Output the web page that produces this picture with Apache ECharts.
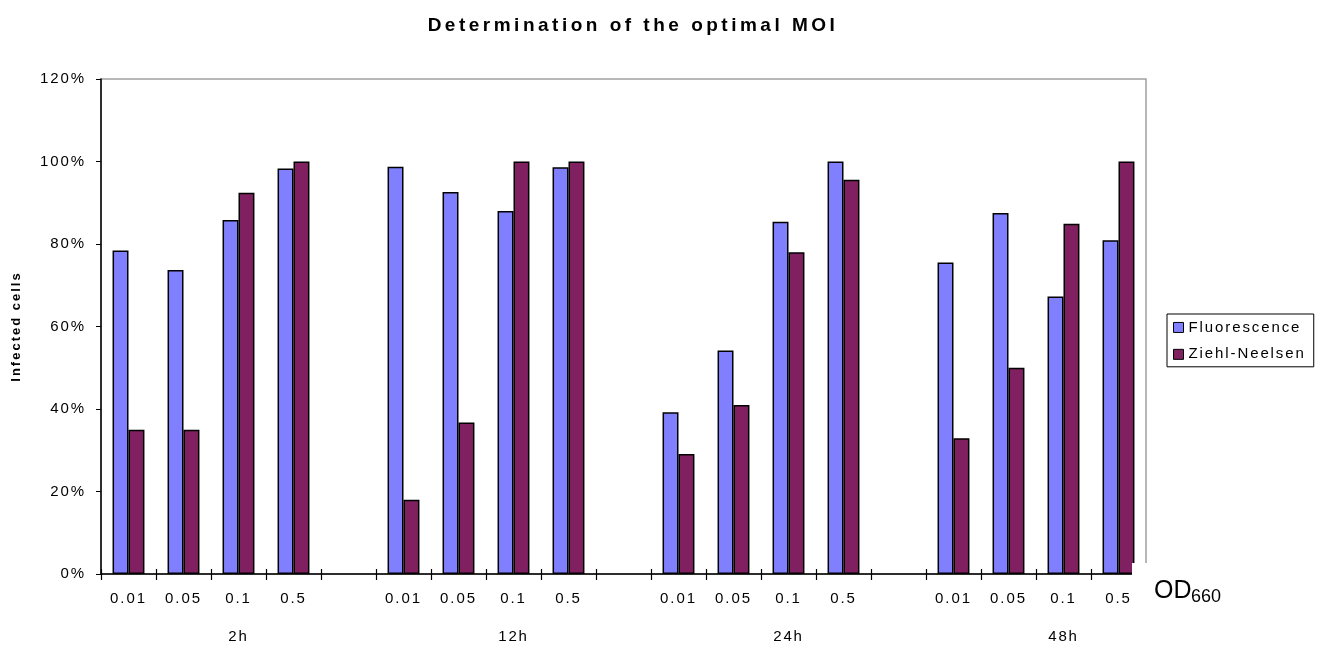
<!DOCTYPE html>
<html>
<head>
<meta charset="utf-8">
<script src="https://cdn.jsdelivr.net/npm/echarts@6/dist/echarts.min.js"></script>
<style>html,body{margin:0;padding:0;background:#fff;}#c{width:1326px;height:646px;}</style>
</head>
<body>
<div id="c"></div>
<script>
// 19 slots: four time groups of four MOI values, separated by empty slots
const moiLabels = ['0.01','0.05','0.1','0.5','', '0.01','0.05','0.1','0.5','', '0.01','0.05','0.1','0.5','', '0.01','0.05','0.1','0.5'];
const groupLabels = ['','','2h','','', '','','12h','','', '','','24h','','', '','','48h',''];
const fluorescence = [78.4, 73.7, 85.8, 98.3, null, 98.7, 92.6, 88.0, 98.6, null, 39.2, 54.2, 85.4, 100, null, 75.5, 87.5, 67.3, 80.9];
const ziehlNeelsen = [35.0, 35.0, 92.4, 100, null, 18.0, 36.7, 100, 100, null, 29.1, 41.0, 78.0, 95.6, null, 32.9, 50.0, 84.9, 100];
const yTicks = [0, 20, 40, 60, 80, 100, 120];

// The reference renders its text with wide letter spacing; emulate it per font.
(function () {
  const proto = CanvasRenderingContext2D.prototype;
  const desc = Object.getOwnPropertyDescriptor(proto, 'font');
  if (!desc || !('letterSpacing' in proto)) return;
  function spacingFor(font) {
    const m = /(\d+(?:\.\d+)?)px/.exec(font || '');
    const size = m ? parseFloat(m[1]) : 12;
    const bold = /bold|[6-9]00/.test(font || '');
    if (bold && size === 19) return '3.5px';
    if (bold && size === 13) return '2px';
    if (!bold && size === 15) return '1.9px';
    return '0px';
  }
  Object.defineProperty(proto, 'font', {
    configurable: true,
    get() { return desc.get.call(this); },
    set(v) { desc.set.call(this, v); try { this.letterSpacing = spacingFor(v); } catch (e) {} }
  });
})();

const FONT = '"Liberation Sans", Arial, sans-serif';
const chart = echarts.init(document.getElementById('c'), null, {renderer: 'canvas'});
chart.setOption({
  animation: false,
  backgroundColor: '#fff',
  title: {
    text: 'Determination of the optimal MOI',
    left: 633, top: 15, textAlign: 'center', padding: 0,
    textStyle: {fontFamily: FONT, fontSize: 19, fontWeight: 'bold', color: '#000'}
  },
  legend: {
    orient: 'vertical', left: 1167, top: 314,
    padding: [5, 8, 4, 6], itemGap: 10,
    borderColor: '#000', borderWidth: 1,
    itemWidth: 10, itemHeight: 10, icon: 'rect',
    itemStyle: {borderColor: '#000', borderWidth: 1},
    textStyle: {fontFamily: FONT, fontSize: 15, color: '#000'},
    data: ['Fluorescence', 'Ziehl-Neelsen']
  },
  grid: {
    left: 101, right: 180, top: 79, bottom: 72,
    show: true, borderColor: '#a0a0a0', borderWidth: 1.5, backgroundColor: '#fff'
  },
  xAxis: [{
    type: 'category', data: moiLabels, position: 'bottom',
    axisLine: {show: true, lineStyle: {color: '#000', width: 1.5}},
    axisTick: {show: true, interval: 0, length: 6, alignWithLabel: false, lineStyle: {color: '#000', width: 1.2}},
    axisLabel: {interval: 0, margin: 16, fontFamily: FONT, fontSize: 15, color: '#000'}
  }, {
    type: 'category', data: groupLabels, position: 'bottom', offset: 54,
    axisLine: {show: false}, axisTick: {show: false},
    axisLabel: {interval: 0, margin: 0, fontFamily: FONT, fontSize: 15, color: '#000'}
  }, {
    type: 'category', data: moiLabels, position: 'bottom',
    axisLine: {show: false},
    axisTick: {show: true, inside: true, interval: 0, length: 5, alignWithLabel: false, lineStyle: {color: '#000', width: 1.2}},
    axisLabel: {show: false}
  }],
  yAxis: {
    type: 'value', min: yTicks[0], max: yTicks[yTicks.length - 1], interval: 20,
    name: 'Infected cells', nameLocation: 'middle', nameGap: 77, nameRotate: 90,
    nameTextStyle: {fontFamily: FONT, fontSize: 13, fontWeight: 'bold', color: '#000'},
    axisLine: {show: true, lineStyle: {color: '#000', width: 1.5}},
    axisTick: {show: true, length: 5, lineStyle: {color: '#000'}},
    splitLine: {show: false},
    axisLabel: {formatter: '{value}%', margin: 15, fontFamily: FONT, fontSize: 15, color: '#000'}
  },
  series: [{
    name: 'Fluorescence', type: 'bar', data: fluorescence,
    barGap: '0%', barCategoryGap: '42%',
    itemStyle: {color: '#8080FF', borderColor: '#000', borderWidth: 1.5}
  }, {
    name: 'Ziehl-Neelsen', type: 'bar', data: ziehlNeelsen,
    barGap: '0%', barCategoryGap: '42%',
    itemStyle: {color: '#802060', borderColor: '#000', borderWidth: 1.5}
  }],
  graphic: [{
    type: 'rect', z: 100, shape: {x: 1132, y: 563, width: 125, height: 50},
    style: {fill: '#fff'}
  }, {
    type: 'text', z: 101, x: 1154, y: 591,
    style: {text: 'OD', fontFamily: FONT, fontSize: 25, fill: '#000', verticalAlign: 'middle'}
  }, {
    type: 'text', z: 101, x: 1191, y: 597,
    style: {text: '660', fontFamily: FONT, fontSize: 18, fill: '#000', verticalAlign: 'middle'}
  }]
});
</script>
</body>
</html>
